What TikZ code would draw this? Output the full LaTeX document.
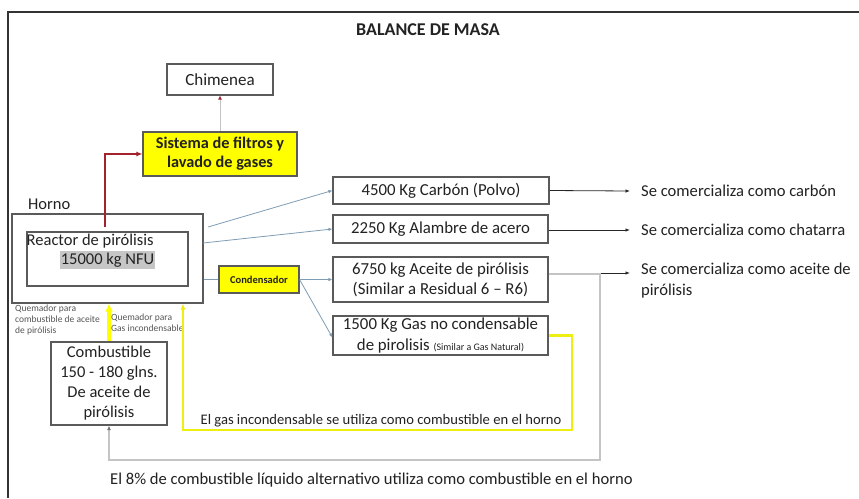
\documentclass[tikz,border=0pt]{standalone}
\usepackage{fontspec}
\setmainfont{Carlito}
\usetikzlibrary{arrows.meta}
\definecolor{txt}{HTML}{222222}
\definecolor{bord}{HTML}{5A5A5A}
\definecolor{conn}{HTML}{7F9DB5}
\definecolor{ylw}{HTML}{FFFF00}
\definecolor{ylwline}{HTML}{EEEE10}
\definecolor{dred}{HTML}{A3222C}
\definecolor{lgray}{HTML}{C4C4C4}
\definecolor{hl}{HTML}{C6C6C6}
\definecolor{small}{HTML}{555555}
\newcommand\fsz[2]{\fontsize{#1}{#2}\selectfont}
\tikzset{
  box/.style={draw=bord, line width=1.1pt, inner sep=0pt, align=center, text=txt},
  ybox/.style={box, fill=ylw},
  plain/.style={inner sep=0pt, text=txt},
  conline/.style={draw=conn, line width=0.8pt, -{Latex[length=4pt,width=3.5pt]}},
  outline/.style={draw=black!85, line width=0.8pt, -{Latex[length=4.5pt,width=3.5pt]}},
}
\begin{document}
\begin{tikzpicture}[x=1pt,y=-1pt]
\useasboundingbox (0,0) rectangle (859,498);
\fill[white] (0,0) rectangle (859,498);
% outer frame
\draw[black!80, line width=1.4pt] (8,498) -- (8,12) -- (859,12);

\node[plain, font=\fsz{18}{21}\bfseries] (title) at (428,30) {BALANCE DE MASA};

% boxes
\node[box, minimum width=106pt, minimum height=31pt, font=\fsz{17}{20}] (chim) at (220,79.5) {Chimenea};
\node[ybox, minimum width=154pt, minimum height=44pt, font=\fsz{16.3}{19}\bfseries] (filt) at (220,154) {Sistema de filtros y\\lavado de gases};
\node[box, minimum width=191pt, minimum height=89pt] (horno) at (107.5,258.5) {};
\node[box, minimum width=161pt, minimum height=54pt] (reactor) at (107.5,259) {};
\node[plain, anchor=west, font=\fsz{16.5}{19}] (hornolab) at (28,204) {Horno};
\node[plain, anchor=west, font=\fsz{16.5}{19}] (reactlab) at (26.5,241.5) {Reactor de pirólisis};
\node[plain, fill=hl, inner xsep=0.5pt, inner ysep=1.5pt, font=\fsz{16.5}{19}] (nfu) at (107.5,260) {15000 kg NFU};
\node[ybox, minimum width=80pt, minimum height=27pt, font=\fsz{10.5}{12}\bfseries] (cond) at (259,279.5) {Condensador};

\node[box, minimum width=216pt, minimum height=27pt, font=\fsz{16.8}{19}] (carbon) at (441,190.5) {4500 Kg Carbón (Polvo)};
\node[box, minimum width=215pt, minimum height=28pt, font=\fsz{16.8}{19}] (alambre) at (440.5,229) {2250 Kg Alambre de acero};
\node[box, minimum width=215pt, minimum height=45pt, font=\fsz{16.8}{20}] (aceite) at (440.5,279.5) {6750 kg Aceite de pirólisis\\(Similar a Residual 6 – R6)};
\node[box, minimum width=215pt, minimum height=39pt, font=\fsz{16.8}{21}] (gas) at (440.5,335.5) {1500 Kg Gas no condensable\\de pirolisis {\fsz{10}{11}(Similar a Gas Natural)}};
\node[box, minimum width=116pt, minimum height=83pt, font=\fsz{16.5}{20}] (comb) at (109,383.5) {Combustible\\150 - 180 glns.\\De aceite de\\pirólisis};

% right texts
\node[plain, anchor=west, inner xsep=11pt, font=\fsz{16.6}{19}] (t1) at (630,191) {Se comercializa como carbón};
\node[plain, anchor=west, inner xsep=11pt, font=\fsz{16.6}{19}] (t2) at (630,230) {Se comercializa como chatarra};
\node[plain, anchor=north west, inner xsep=11pt, align=left, font=\fsz{16.6}{21}] (t3) at (630,263) {Se comercializa como aceite de\\pirólisis};
\coordinate (t3a) at (630,273);

% small labels
\node[plain, anchor=north west, align=left, text=small, font=\fsz{9.5}{11}] (q1) at (15,305) {Quemador para\\combustible de aceite\\de pirólisis};
\node[plain, anchor=north west, align=left, text=small, font=\fsz{9.5}{11}] (q2) at (111,314) {Quemador para\\Gas incondensable};

% bottom texts
\node[plain, font=\fsz{14.6}{17}] (gastxt) at (381,421) {El gas incondensable se utiliza como combustible en el horno};
\node[plain, anchor=west, font=\fsz{16.6}{19}] (ochotxt) at (110,480) {El 8\% de combustible líquido alternativo utiliza como combustible en el horno};

% connectors
\coordinate (rs) at (105,227);
\draw[dred, line width=1.8pt, -{Latex[length=6pt,width=5pt]}] (rs) |- (filt.west);
\draw[lgray, line width=1pt, -{Latex[length=4pt,width=4pt,color=dred]}] (filt.north) -- (chim.south);

\coordinate (h1) at (208,227);
\coordinate (h2) at (203,243);
\draw[conline] (h1) -- (carbon.west);
\draw[conline] (h2) -- (alambre.west);
\draw[draw=conn, line width=0.8pt] (horno.east |- cond.west) -- (cond.west);
\draw[conline] (cond.east) -- (aceite.west);
\draw[conline] (cond.east) -- ([yshift=-2pt]gas.west);

\draw[outline] (carbon.east) -- (t1.west);
\draw[outline] (alambre.east |- t2.west) -- (t2.west);
\draw[outline] (aceite.east |- t3a) -- (t3a);

% gray recirculation
\coordinate (g1) at (600,460);
\draw[lgray, line width=1.2pt, -{Latex[length=4.5pt,width=4pt,color=black!55]}] ([yshift=5.5pt]aceite.east) -| (g1) -| (comb.south);

% yellow lines
\coordinate (y1) at (572,430);
\draw[ylwline, line width=2.2pt, -{Latex[length=6pt,width=5pt]}] (gas.east) -| (y1) -| ([xshift=75.5pt]horno.south);
\draw[ylw, line width=3.5pt, -{Latex[length=8pt,width=8pt]}] (comb.north) -- (comb.north |- horno.south);
\end{tikzpicture}
\end{document}
